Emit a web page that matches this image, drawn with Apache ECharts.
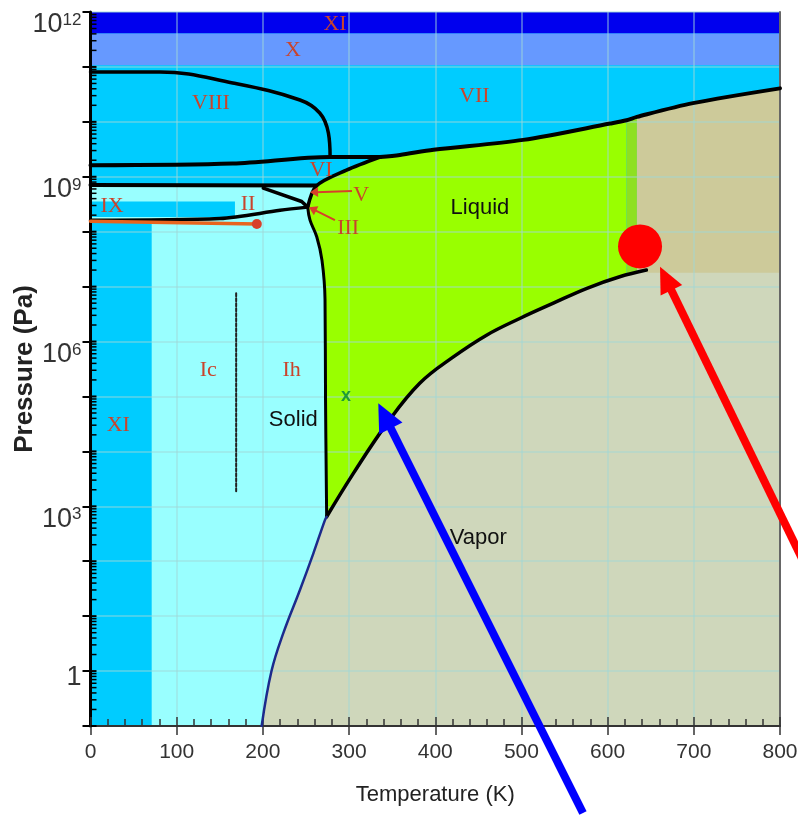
<!DOCTYPE html>
<html>
<head>
<meta charset="utf-8">
<script src="https://cdn.jsdelivr.net/npm/echarts@6/dist/echarts.min.js"></script>
<style>
html,body{margin:0;padding:0;background:#fff;}
#main{width:798px;height:815px;}
</style>
</head>
<body>
<div id="main"></div>
<script>
// temperature in K, pressure in Pa
var vaporCurve = [[274,646],[305,3980],[344,3.24e4],[382,1.74e5],[421,5.25e5],[460,1.32e6],[498,2.63e6],[537,5.0e6],[576,9.33e6],[614,1.51e7],[645,2.0e7]];
var sublimationCurve = [[198.6,0.1],[210,1.0],[223.7,4.9],[243,30],[258.5,138],[272,562],[274,646]];
var meltingIh = [[274,646],[272.7,8.7e4],[272.1,5.8e6],[268.6,3.0e7],[262.5,8.1e7],[254.7,1.62e8],[252,2.8e8]];
var lowerLine = [[0,1.62e8],[150,1.74e8],[220,2.45e8],[252,2.8e8]];
var wedgeLine = [[200.5,6.2e8],[245,3.55e8],[252,2.8e8]];
var upperLine = [[0,7.1e8],[262,6.9e8]];
var liquidVI = [[252,2.8e8],[262,6.8e8],[297,1.32e9],[336,2.29e9]];
var lineVI_VIII = [[0,1.62e9],[165,1.74e9],[278,2.29e9],[336,2.29e9]];
var lineVIII_VII = [[0,8.1e10],[80.6,8.1e10],[165,5.1e10],[243,2.5e10],[266,1.45e10],[276,6.3e9],[278,2.29e9]];
var lineVII = [[336,2.29e9],[359,2.5e9],[398,3.1e9],[502,4.7e9],[603,9.3e9],[622,1.07e10],[634,1.23e10],[699,2.19e10],[800,4.07e10]];
var orangeIX = [[0,1.55e8],[193,1.38e8]];
var dashedIc = [[169,7.6e6],[169,1.74e3]];

var bandXI = [4.07e11, 1e12];
var bandX = [1.07e11, 4.07e11];
var rectIX_T = [0, 167.6];
var rectIX_P = [1.86e8, 3.55e8];
var iceXIedge = 71;
var stripT = [622, 634];
var superBottom = 1.78e7;

var criticalMark = [637.6, 5.4e7];
var roomPoint = [296.4, 1.02e5];

var romanLabels = [
  ['XI', 283.7, 6.0e11], ['X', 235, 2.0e11], ['VIII', 139.8, 2.2e10], ['VII', 445.3, 2.9e10],
  ['VI', 267.5, 1.3e9], ['V', 314, 4.7e8], ['III', 299, 1.17e8], ['II', 182.7, 3.1e8],
  ['IX', 25, 2.9e8], ['Ic', 136.7, 3.0e5], ['Ih', 233.4, 3.0e5], ['XI', 32.3, 3.0e4]
];
var phaseLabels = [['Liquid', 451.9, 2.7e8], ['Solid', 235.3, 3.7e4], ['Vapor', 450, 263]];

var arrowV = [[303.4,5.5e8],[254.7,5.2e8]];
var arrowIII = [[283.6,1.62e8],[253.5,2.8e8]];
var arrowBlue = [[571.4,2.6e-3],[333.9,7.5e4]];
var arrowRed = [[858,10],[660.8,2.29e7]];

var yLabelExps = [12, 9, 6, 3, 0];
var minorFactors = [2,3,4,5,6,7,8,9];

function lg(p){ return [p[0], Math.log10(p[1])]; }
function path(a){ return a.map(lg); }

var P0 = 0.1, P1 = 1e12;
var regions = [
  {color:'#00ccff', pts:[[0,P0],[800,P0],[800,P1],[0,P1]]},
  {color:'#0000ee', pts:[[0,bandXI[0]],[800,bandXI[0]],[800,bandXI[1]],[0,bandXI[1]]]},
  {color:'#6699ff', pts:[[0,bandX[0]],[800,bandX[0]],[800,bandX[1]],[0,bandX[1]]]},
  {color:'#99ffff', pts:upperLine.concat([liquidVI[1], liquidVI[0]])
      .concat(meltingIh.slice().reverse())
      .concat(sublimationCurve.slice().reverse())
      .concat([[iceXIedge,P0],[iceXIedge,orangeIX[0][1]],[0,orangeIX[0][1]]])},
  {color:'#00ccff', pts:[[rectIX_T[0],rectIX_P[0]],[rectIX_T[1],rectIX_P[0]],[rectIX_T[1],rectIX_P[1]],[rectIX_T[0],rectIX_P[1]]]},
  {color:'#99ff00', pts:meltingIh.concat(liquidVI.slice(1)).concat(lineVII.slice(1,6))
      .concat([[stripT[0],P0]]).concat(sublimationCurve)},
  {color:'#8ee022', pts:lineVII.slice(5,7).concat([[stripT[1],P0],[stripT[0],P0]])},
  {color:'#cdca9a', pts:lineVII.slice(6).concat([[800,P0],[stripT[1],P0]])},
  {color:'#cfd7bb', pts:sublimationCurve.concat(vaporCurve.slice(1))
      .concat([[645,superBottom],[800,superBottom],[800,P0]])}
];

function lineSeries(data, color, width, z, type, smooth){
  return {
    type:'line', data:path(data), showSymbol:false, symbol:'none', z:z, silent:true,
    animation:false, smooth:smooth || false,
    lineStyle:{color:color, width:width, type:type || 'solid', cap:'round', join:'round'}
  };
}

function arrowShape(api, a, headL, headW, color, width){
  var p1 = api.coord(lg(a[0])), p2 = api.coord(lg(a[1]));
  var dx = p2[0]-p1[0], dy = p2[1]-p1[1], len = Math.sqrt(dx*dx+dy*dy);
  var ux = dx/len, uy = dy/len, nx = -uy, ny = ux;
  var bx = p2[0]-ux*headL, by = p2[1]-uy*headL;
  return [
    {type:'line', shape:{x1:p1[0],y1:p1[1],x2:bx+ux*2,y2:by+uy*2}, style:{stroke:color, lineWidth:width}},
    {type:'polygon', shape:{points:[p2,[bx+nx*headW,by+ny*headW],[bx-nx*headW,by-ny*headW]]}, style:{fill:color}}
  ];
}

var tickFont = 'Liberation Sans';

option = {
  backgroundColor:'#ffffff',
  animation:false,
  grid:{left:90.5, right:18, top:12, bottom:89, containLabel:false, outerBoundsMode:'none'},
  xAxis:[{
    type:'value', min:0, max:800, interval:100, position:'bottom', z:3,
    name:'Temperature (K)', nameLocation:'middle', nameGap:58, nameMoveOverlap:false,
    nameTextStyle:{fontFamily:tickFont, fontSize:22, color:'#222'},
    axisLine:{onZero:false, lineStyle:{color:'#333', width:2}},
    axisTick:{length:9, lineStyle:{color:'#333', width:1.5}},
    axisLabel:{margin:16, fontFamily:tickFont, fontSize:21, color:'#333'},
    splitLine:{show:true, lineStyle:{color:'rgba(160,215,215,0.45)', width:2}}
  },{
    type:'value', min:0, max:800, interval:100, position:'bottom', z:3,
    axisLine:{show:false, onZero:false},
    axisTick:{inside:true, length:9, lineStyle:{color:'#333', width:1.5}},
    minorTick:{show:true, splitNumber:5, length:7, lineStyle:{color:'#333', width:1.5}},
    axisLabel:{show:false}, splitLine:{show:false}
  }],
  yAxis:[{
    type:'value', min:-1, max:12, interval:1, position:'left', z:3,
    name:'Pressure (Pa)', nameLocation:'middle', nameGap:53, nameMoveOverlap:false,
    nameTextStyle:{fontFamily:tickFont, fontSize:26, fontWeight:'bold', color:'#222'},
    axisLine:{onZero:false, lineStyle:{color:'#000', width:3}},
    axisTick:{length:8, lineStyle:{color:'#000', width:2}},
    axisLabel:{
      margin:9, verticalAlign:'top', color:'#333',
      formatter:function(v){
        if (yLabelExps.indexOf(v) < 0) return '';
        if (v === 0) return '{one|1}';
        return '{b|10}{s|' + v + '}';
      },
      rich:{
        b:{fontFamily:tickFont, fontSize:27, lineHeight:26, color:'#333'},
        s:{fontFamily:tickFont, fontSize:17, lineHeight:16, verticalAlign:'top', color:'#333'},
        one:{fontFamily:tickFont, fontSize:27, lineHeight:12, color:'#333'}
      }
    },
    splitLine:{show:true, lineStyle:{color:'rgba(160,215,215,0.45)', width:2}}
  },{
    type:'value', min:-1, max:12, interval:1, position:'right', z:3,
    axisLine:{show:true, onZero:false, lineStyle:{color:'#666', width:2}},
    axisTick:{show:false}, axisLabel:{show:false}, splitLine:{show:false}
  }],
  series:[
    {
      type:'custom', z:1, silent:true, clip:true,
      data:regions.map(function(r, i){ return [i, 0]; }),
      renderItem:function(params, api){
        var r = regions[params.dataIndex];
        return {type:'polygon', shape:{points:r.pts.map(function(p){ return api.coord(lg(p)); })}, style:{fill:r.color}};
      }
    },
    lineSeries(lowerLine, '#000', 3.5, 5, null, 0.3),
    lineSeries(orangeIX, '#e8641e', 3.5, 6),
    lineSeries(wedgeLine, '#000', 3.5, 5),
    lineSeries(upperLine, '#000', 4, 5),
    lineSeries(liquidVI, '#000', 3.5, 5, null, 0.3),
    lineSeries(lineVI_VIII, '#000', 4, 5, null, 0.3),
    lineSeries(lineVIII_VII, '#000', 3.5, 5, null, 0.4),
    lineSeries(lineVII, '#000', 4, 5, null, 0.3),
    lineSeries(meltingIh, '#000', 3, 5, null, 0.4),
    lineSeries(vaporCurve, '#000', 3.5, 5, null, 0.4),
    lineSeries(sublimationCurve, '#1c2a8c', 2.5, 5, null, 0.4),
    lineSeries(dashedIc, '#222', 2, 5, [3, 2]),
    {
      type:'scatter', z:6, silent:true, symbolSize:10,
      itemStyle:{color:'#d8402a', opacity:1},
      data:[lg(orangeIX[1])]
    },
    {
      type:'custom', z:7, silent:true,
      data:[[0,0]],
      renderItem:function(params, api){
        var kids = [];
        romanLabels.forEach(function(l){
          var p = api.coord(lg([l[1], l[2]]));
          kids.push({type:'text', x:p[0], y:p[1], style:{text:l[0], fill:'#c9442c',
            font:'22px "Liberation Serif", serif', align:'center', verticalAlign:'middle'}});
        });
        phaseLabels.forEach(function(l){
          var p = api.coord(lg([l[1], l[2]]));
          kids.push({type:'text', x:p[0], y:p[1], style:{text:l[0], fill:'#111',
            font:'22px "Liberation Sans", sans-serif', align:'center', verticalAlign:'middle'}});
        });
        var q = api.coord(lg(roomPoint));
        kids.push({type:'text', x:q[0], y:q[1], style:{text:'x', fill:'#1f9a3a',
          font:'bold 18px "Liberation Sans", sans-serif', align:'center', verticalAlign:'middle'}});
        kids = kids.concat(arrowShape(api, arrowV, 8, 5, '#d8402a', 2));
        kids = kids.concat(arrowShape(api, arrowIII, 8, 5, '#d8402a', 2));
        // y minor ticks (log spaced) and inner part of major ticks
        for (var n = -1; n < 12; n++) {
          minorFactors.forEach(function(k){
            var c = api.coord([0, n + Math.log10(k)]);
            kids.push({type:'line', shape:{x1:c[0], y1:c[1], x2:c[0]+6, y2:c[1]}, style:{stroke:'#000', lineWidth:1.5}});
          });
          var m = api.coord([0, n]);
          kids.push({type:'line', shape:{x1:m[0], y1:m[1], x2:m[0]+6, y2:m[1]}, style:{stroke:'#000', lineWidth:2}});
        }
        return {type:'group', children:kids};
      }
    },
    {
      type:'scatter', z:8, silent:true, symbolSize:44,
      itemStyle:{color:'#ff0000', opacity:1},
      data:[lg(criticalMark)]
    },
    {
      type:'custom', z:9, silent:true, clip:false,
      data:[[0,0]],
      renderItem:function(params, api){
        var kids = arrowShape(api, arrowBlue, 28, 13, '#0000ff', 8)
          .concat(arrowShape(api, arrowRed, 26, 12, '#ff0000', 8));
        return {type:'group', children:kids};
      }
    }
  ]
};

var myChart = echarts.init(document.getElementById('main'));
if (option && typeof option === 'object') {
  myChart.setOption(option, true);
}
window.onresize = myChart.resize;
</script>
</body>
</html>
